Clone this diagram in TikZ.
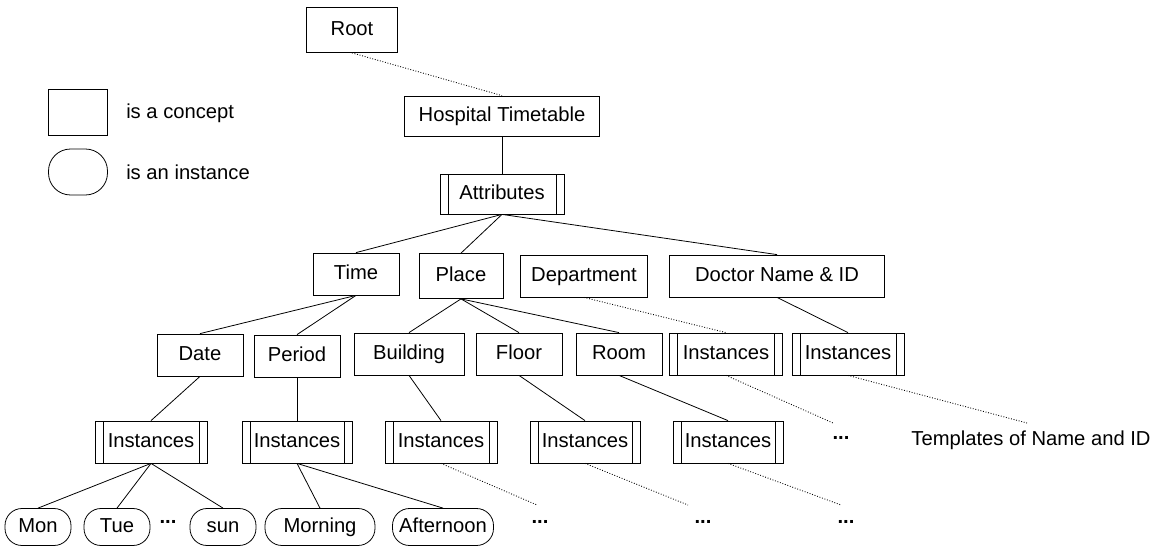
\documentclass[tikz,border=0pt]{standalone}
\usepackage{fontspec}
\setmainfont{Liberation Sans}

\begin{document}
\begin{tikzpicture}[x=0.02cm,y=-0.02cm,line width=0.45pt,
  font=\fontsize{11.5}{13}\selectfont,
  concept/.style={draw,minimum width=1.72cm,minimum height=0.84cm,inner xsep=6pt,
    text height=8.6pt,text depth=2.4pt},
  slot/.style={concept,minimum width=2.22cm,inner xsep=6pt,
    path picture={
      \draw ([xshift=0.16cm]path picture bounding box.north west) -- ([xshift=0.16cm]path picture bounding box.south west);
      \draw ([xshift=-0.16cm]path picture bounding box.north east) -- ([xshift=-0.16cm]path picture bounding box.south east);}},
  instance/.style={draw,rounded corners=0.34cm,minimum width=1.32cm,minimum height=0.74cm,inner xsep=2pt,
    text height=8.6pt,text depth=2.4pt},
  more/.style={densely dotted,line width=0.5pt},
  etc/.style={font=\fontsize{11.5}{13}\selectfont\bfseries}]
\useasboundingbox (0,0) rectangle (1160,551);

% Legend
\node[draw,minimum width=1.18cm,minimum height=0.92cm] (keyc) at (78,112) {};
\node[anchor=west] (keyctext) at (120,113) {is a concept};
\node[draw,rounded corners=0.44cm,minimum width=1.18cm,minimum height=0.92cm] (keyi) at (78,172) {};
\node[anchor=west] (keyitext) at (120,172) {is an instance};

% Concepts, top levels
\node[concept,minimum width=1.82cm,minimum height=0.9cm] (root) at (352,30) {Root};
\node[concept,minimum width=3.9cm,minimum height=0.8cm] (hosp) at (502,116) {Hospital Timetable};
\node[slot,minimum width=2.48cm,minimum height=0.8cm] (attr) at (502,194) {Attributes};

\node[concept] (time) at (356,274) {Time};
\node[concept,minimum width=1.68cm,minimum height=0.9cm] (place) at (461,276) {Place};
\node[concept,minimum width=2.5cm] (dept) at (584,276) {Department};
\node[concept,minimum width=4.3cm] (doctor) at (777,276) {Doctor Name \& ID};

\node[concept] (date) at (200,355) {Date};
\node[concept] (period) at (297,356) {Period};
\node[concept,minimum width=2.2cm] (building) at (409,354) {Building};
\node[concept] (floor) at (519,354) {Floor};
\node[concept] (room) at (619,354) {Room};
\node[slot,minimum width=2.26cm] (deptinst) at (726,354) {Instances};
\node[slot,minimum width=2.24cm] (docinst) at (848,354) {Instances};

% Instance lists
\node[slot,minimum width=2.24cm] (dateinst) at (151,442) {Instances};
\node[slot,minimum width=2.2cm] (periodinst) at (297,442) {Instances};
\node[slot,minimum width=2.24cm] (buildinst) at (441,442) {Instances};
\node[slot,minimum width=2.2cm] (floorinst) at (585,442) {Instances};
\node[slot,minimum width=2.2cm] (roominst) at (728,442) {Instances};
\node[etc] (deptdots) at (841,438) {...};
\node (templates) at (1031,440) {Templates of Name and ID};

% Instances
\node[instance] (mon) at (38,527) {Mon};
\node[instance] (tue) at (117,527) {Tue};
\node[etc] (daydots) at (168,522) {...};
\node[instance] (sun) at (223,527) {sun};
\node[instance,minimum width=2.2cm] (morning) at (320,527) {Morning};
\node[instance,minimum width=2.02cm] (afternoon) at (443,527) {Afternoon};
\node[etc] (builddots) at (540,522) {...};
\node[etc] (floordots) at (703,522) {...};
\node[etc] (roomdots) at (846,522) {...};

% Free ends of the dotted links
\coordinate (deptend) at (833,423);
\coordinate (docend) at (1027,423);
\coordinate (buildend) at (537,505);
\coordinate (floorend) at (688,505);
\coordinate (roomend) at (841,505);

% Links
\draw[more] (root.south) -- (hosp.north);
\draw (hosp.south) -- (attr.north);
\foreach \c in {time,place,doctor}
  \draw (attr.south) -- (\c.north);
\foreach \c in {date,period}
  \draw (time.south) -- (\c.north);
\foreach \c in {building,floor,room}
  \draw (place.south) -- (\c.north);
\draw[more] (dept.south) -- (deptinst.north);
\draw (doctor.south) -- (docinst.north);
\draw (date.south) -- (dateinst.north);
\draw (period.south) -- (periodinst.north);
\draw (building.south) -- (buildinst.north);
\draw (floor.south) -- (floorinst.north);
\draw (room.south) -- (roominst.north);
\draw[more] (deptinst.south) -- (deptend);
\draw[more] (docinst.south) -- (docend);
\foreach \c in {mon,tue,sun}
  \draw (dateinst.south) -- (\c.north);
\foreach \c in {morning,afternoon}
  \draw (periodinst.south) -- (\c.north);
\draw[more] (buildinst.south) -- (buildend);
\draw[more] (floorinst.south) -- (floorend);
\draw[more] (roominst.south) -- (roomend);
\end{tikzpicture}
\end{document}
